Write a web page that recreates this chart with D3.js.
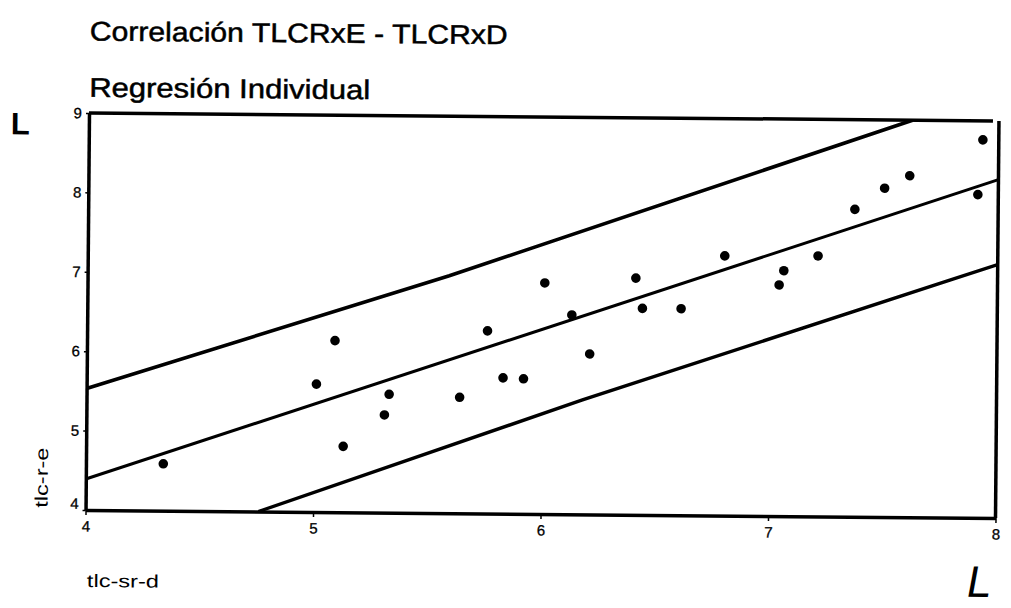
<!DOCTYPE html>
<meta charset="utf-8">
<style>
body { margin: 0; background: #fff; }
text { font-family: "Liberation Sans", Arial, sans-serif; fill: #000; }
</style>
<svg width="1011" height="608"></svg>
<script src="https://d3js.org/d3.v7.min.js"></script>
<script>

// tick values
var xTicks = [4, 5, 6, 7, 8];
var yTicks = [4, 5, 6, 7, 8, 9];

// scatter points (tlc-sr-d, tlc-r-e)
var ptX = [4.34, 5.01, 5.09, 5.13, 5.31, 5.33, 5.64, 5.76, 5.83, 5.92, 6.01, 6.13, 6.21,
           6.41, 6.44, 6.61, 6.80, 7.04, 7.06, 7.21, 7.37, 7.50, 7.61, 7.91, 7.93];
var ptY = [4.59, 5.61, 6.16, 4.83, 5.23, 5.49, 5.46, 6.30, 5.71, 5.70, 6.91, 6.51, 6.02,
           6.98, 6.60, 6.60, 7.27, 6.91, 7.09, 7.28, 7.87, 8.14, 8.30, 8.07, 8.76];

// regression line and prediction band
var fitX = [4, 8],                fitY = [4.39, 8.26];
var upX  = [4, 5.59, 7.62],       upY  = [5.53, 6.99, 9.0];
var loX  = [4.76, 6.18, 7.79, 8], loY  = [4.0, 5.44, 6.99, 7.19];

var svg = d3.select("svg"),
    width = 910,
    height = 397;

// the scanned page is tilted a little
var root = svg.append("g").attr("transform", "translate(89,113) rotate(0.5)");

var x = d3.scaleLinear().domain([4, 8]).range([0, width]);
var y = d3.scaleLinear().domain([4, 9]).range([height, 0]);

root.append("clipPath").attr("id", "clip")
  .append("rect").attr("width", width).attr("height", height);

// titles
root.append("text").attr("x", 0).attr("y", -72.5)
    .attr("font-size", 27).attr("textLength", 418).attr("lengthAdjust", "spacingAndGlyphs")
    .attr("stroke", "#000").attr("stroke-width", 0.5)
    .text("Correlación TLCRxE - TLCRxD");
root.append("text").attr("x", 0).attr("y", -16.3)
    .attr("font-size", 27).attr("textLength", 281).attr("lengthAdjust", "spacingAndGlyphs")
    .attr("stroke", "#000").attr("stroke-width", 0.5)
    .text("Regresión Individual");

// frame: top and right
root.append("line").attr("x1", x(4)).attr("x2", x(8) - 6).attr("y1", y(9)).attr("y2", y(9))
    .attr("stroke", "#000").attr("stroke-width", 3.5);
root.append("line").attr("x1", x(8)).attr("x2", x(8)).attr("y1", y(9)).attr("y2", y(4))
    .attr("stroke", "#000").attr("stroke-width", 3.5);

var fmt = d3.format("d");
var gx = root.append("g").attr("transform", "translate(0," + height + ")")
    .call(d3.axisBottom(x).tickValues(xTicks).tickFormat(fmt)
      .tickSizeInner(5).tickSizeOuter(0).tickPadding(6));
var gy = root.append("g")
    .call(d3.axisLeft(y).tickValues(yTicks).tickFormat(fmt)
      .tickSizeInner(3).tickSizeOuter(0).tickPadding(4));

root.selectAll(".domain").attr("stroke-width", 3.5);
root.selectAll(".tick line").attr("stroke-width", 1.5);
root.selectAll(".tick text")
    .attr("font-family", "Liberation Sans, Arial, sans-serif").attr("font-size", 15)
    .attr("stroke", "#000").attr("stroke-width", 0.3);
// lowest y label sits above the corner
gy.selectAll(".tick").filter(function(d) { return d === 4; }).select("text").attr("dy", "-0.1em");

// lines
var line = d3.line().x(function(d) { return x(d[0]); }).y(function(d) { return y(d[1]); });
var lines = root.append("g").attr("clip-path", "url(#clip)")
    .attr("fill", "none").attr("stroke", "#000");
lines.append("path").datum(d3.zip(upX, upY)).attr("d", line).attr("stroke-width", 3.6);
lines.append("path").datum(d3.zip(fitX, fitY)).attr("d", line).attr("stroke-width", 3);
lines.append("path").datum(d3.zip(loX, loY)).attr("d", line).attr("stroke-width", 3.4);

// points
root.append("g").selectAll("circle")
  .data(d3.zip(ptX, ptY))
  .enter().append("circle")
    .attr("cx", function(d) { return x(d[0]); })
    .attr("cy", function(d) { return y(d[1]); })
    .attr("r", 4.8)
    .attr("fill", "#000");

// axis titles
root.append("text").attr("transform", "translate(-38,365) rotate(-90)")
    .attr("text-anchor", "middle").attr("font-size", 18)
    .attr("textLength", 60).attr("lengthAdjust", "spacingAndGlyphs")
    .text("tlc-r-e");
root.append("text").attr("x", 2).attr("y", 474)
    .attr("font-size", 18).attr("textLength", 72).attr("lengthAdjust", "spacingAndGlyphs")
    .text("tlc-sr-d");

// hand-written marks on the page
root.append("text").attr("x", -78).attr("y", 22)
    .attr("font-size", 31).attr("font-weight", "bold")
    .text("L");
root.append("text").attr("transform", "translate(880,476) skewX(-10)")
    .attr("font-size", 44)
    .text("L");

</script>
